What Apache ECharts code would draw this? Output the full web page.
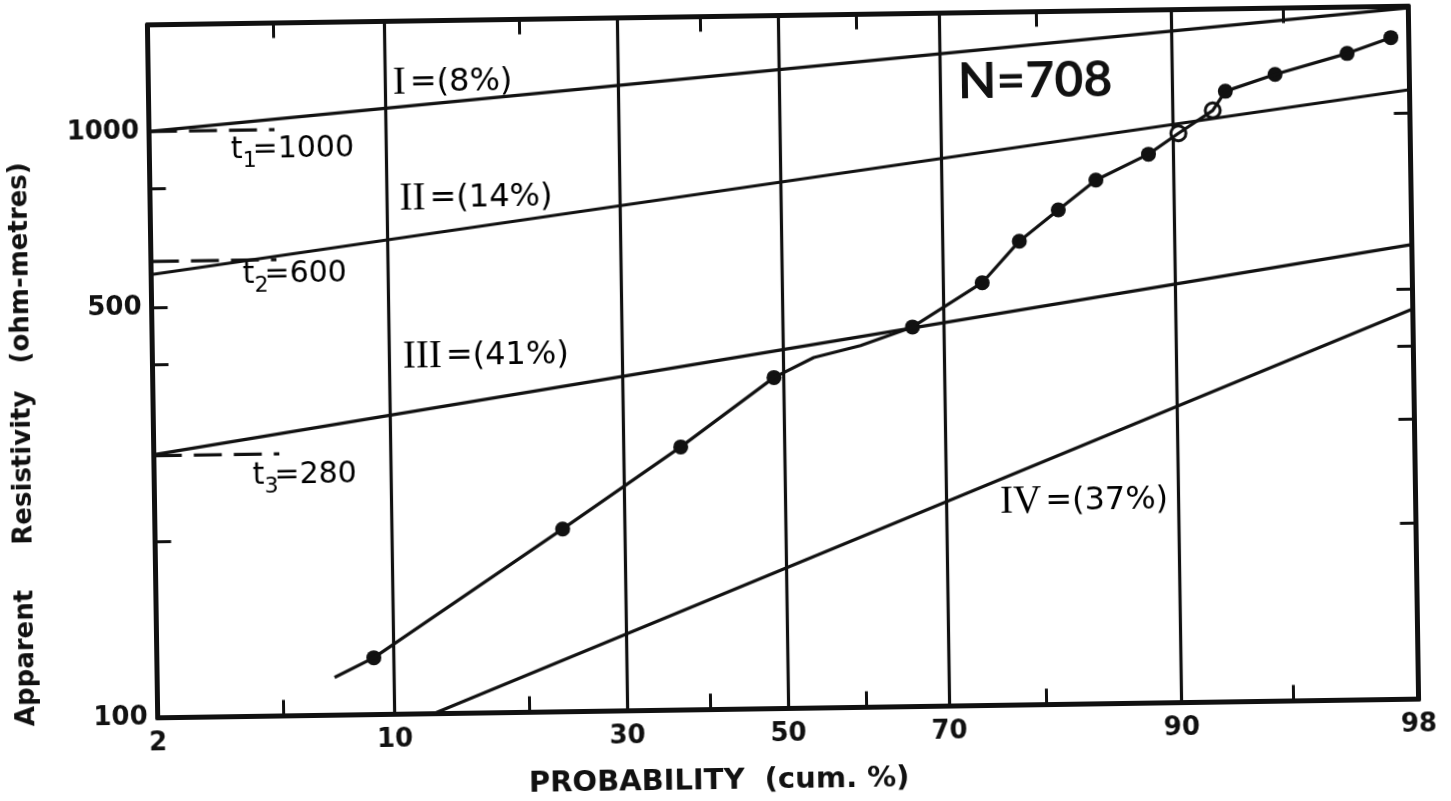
<!DOCTYPE html>
<html>
<head>
<meta charset="utf-8">
<title>Apparent resistivity probability plot</title>
<script src="https://cdn.jsdelivr.net/npm/echarts@6/dist/echarts.min.js"></script>
<style>
  html, body { margin: 0; padding: 0; background: #fff; overflow: hidden; }
  /* the scanned figure sits slightly tilted on the page */
  #chart { width: 1451px; height: 801px; background: #fff;
           transform: rotate(-0.85deg); transform-origin: 783px 362px; }
</style>
</head>
<body>
<div id="chart"></div>
<script>
// probability axis ticks (cum. %)
const xLabelPct = [2, 10, 30, 50, 70, 90, 98];
const xGridPct = [10, 30, 50, 70, 90];
const xMinorPct = [5, 20, 40, 60, 80, 95];
// resistivity axis ticks (ohm-m)
const yLabelVals = [100, 500, 1000];
const yTickLeft = [200, 400, 500, 800];
const yTickRight = [200, 300, 400, 500, 1000];

// plotted points
const dotPct = [8.9, 23.4, 36.8, 48.8, 66.4, 74.3, 78.1, 81.7, 84.8, 88.5, 90.3, 92.1, 92.7, 94.7, 96.8, 97.7];
const dotRho = [125, 205, 281, 367, 444, 526, 618, 697, 782, 863, 935, 1021, 1100, 1172, 1267, 1345];
// hand drawn curve through the points
const curvePct = [7.0, 8.9, 23.4, 36.8, 48.8, 54.0, 60.0, 66.4, 74.3, 78.1, 81.7, 84.8, 88.5, 90.3, 92.1, 92.7, 94.7, 96.8, 97.7];
const curveRho = [116, 125, 205, 281, 367, 396, 414, 444, 526, 618, 697, 782, 863, 935, 1021, 1100, 1172, 1267, 1345];

// fitted populations I..IV (straight lines)
const popNames = ['I', 'II', 'III', 'IV'];
const popShare = ['8%', '14%', '41%', '37%'];
const popStartPct = [2, 2, 2, 12.4];
const popStartRho = [1000, 570, 281, 100];
const popEndPct = [98, 98, 98, 98];
const popEndRho = [1510, 1095, 596, 463];

// thresholds t1..t3
const tLevels = [1000, 600, 280];
const tEndPct = 5;

// inverse normal cdf (Acklam) -> normal probability scale
function probit (p) {
  const a = [-3.969683028665376e+01, 2.209460984245205e+02, -2.759285104469687e+02, 1.383577518672690e+02, -3.066479806614716e+01, 2.506628277459239e+00]
  const b = [-5.447609879822406e+01, 1.615858368580409e+02, -1.556989798598866e+02, 6.680131188771972e+01, -1.328068155288572e+01]
  const c = [-7.784894002430293e-03, -3.223964580411365e-01, -2.400758277161838e+00, -2.549671348283726e+00, 4.374664141464968e+00, 2.938163982698783e+00]
  const d = [7.784695709041462e-03, 3.224671290700398e-01, 2.445134137142996e+00, 3.754408661907416e+00]
  const pl = 0.02425
  let q, r
  if (p < pl) {
    q = Math.sqrt(-2 * Math.log(p))
    return (((((c[0] * q + c[1]) * q + c[2]) * q + c[3]) * q + c[4]) * q + c[5]) / ((((d[0] * q + d[1]) * q + d[2]) * q + d[3]) * q + 1)
  }
  if (p > 1 - pl) {
    q = Math.sqrt(-2 * Math.log(1 - p))
    return -(((((c[0] * q + c[1]) * q + c[2]) * q + c[3]) * q + c[4]) * q + c[5]) / ((((d[0] * q + d[1]) * q + d[2]) * q + d[3]) * q + 1)
  }
  q = p - 0.5
  r = q * q
  return (((((a[0] * r + a[1]) * r + a[2]) * r + a[3]) * r + a[4]) * r + a[5]) * q / (((((b[0] * r + b[1]) * r + b[2]) * r + b[3]) * r + b[4]) * r + 1)
}
const toZ = p => probit(p / 100)
const zMin = toZ(2)
const zMax = toZ(98)

const F = '"DejaVu Sans", sans-serif'
const black = '#111'
// points drawn as open rings in the original
const hollowDots = [10, 11]

const xBase = { type: 'value', min: zMin, max: zMax, gridIndex: 0 }
const yBase = { type: 'log', logBase: 10, min: 100, max: 1520 }

let myChart = echarts.init(document.getElementById('chart'), null, { renderer: 'canvas' })

const lineSeries = popNames.map((n, i) => ({
  name: 'pop ' + n,
  type: 'line',
  silent: true,
  symbol: 'none',
  lineStyle: { color: black, width: 3.2 },
  data: [[toZ(popStartPct[i]), popStartRho[i]], [toZ(popEndPct[i]), popEndRho[i]]]
}))

const tSeries = tLevels.map((v, i) => ({
  name: 't' + (i + 1),
  type: 'line',
  silent: true,
  symbol: 'none',
  lineStyle: { color: black, width: 3.2, type: [28, 12] },
  data: [[toZ(2), v], [toZ(tEndPct), v]]
}))

const labelText = { fontFamily: F, fontSize: 32, color: black, verticalAlign: 'middle', lineHeight: 38 }
const romanText = { fontFamily: '"Liberation Serif", serif', fontSize: 39, color: black, verticalAlign: 'middle', lineHeight: 38, padding: [0, 4, 0, 0] }
const popLabelPos = [[397, 58], [402, 174], [403, 332], [998, 486]]
const tLabelPos = [[234, 127], [244, 252], [251, 453]]

const graphics = []
popNames.forEach((n, i) => {
  graphics.push({
    type: 'text',
    left: popLabelPos[i][0],
    top: popLabelPos[i][1],
    style: {
      text: '{r|' + n + '}{n|=(' + popShare[i] + ')}',
      rich: { r: romanText, n: labelText }
    }
  })
})
tLevels.forEach((v, i) => {
  graphics.push({
    type: 'text',
    left: tLabelPos[i][0],
    top: tLabelPos[i][1],
    style: {
      text: '{n|t}{s|' + (i + 1) + '}{n|=' + v + '}',
      rich: {
        n: { fontFamily: F, fontSize: 30, color: black, verticalAlign: 'top', lineHeight: 34 },
        s: { fontFamily: F, fontSize: 22, color: black, verticalAlign: 'top', lineHeight: 22, width: 10, padding: [15, 0, 0, 0] }
      }
    }
  })
})
graphics.push({
  type: 'text', left: 962, top: 60,
  style: { text: 'N=708', font: 'bold 50px Lato, sans-serif', fill: black }
})
graphics.push({
  type: 'text', x: 713, y: 780,
  style: { text: 'PROBABILITY  (cum. %)', font: 'bold 29px "DejaVu Sans", sans-serif', fill: black, align: 'center', verticalAlign: 'middle' }
})
graphics.push({
  type: 'text', x: 22, y: 433, rotation: Math.PI / 2,
  style: { text: 'Apparent     Resistivity   (ohm-metres)', font: 'bold 26px "DejaVu Sans", sans-serif', fill: black, align: 'center', verticalAlign: 'middle' }
})

const tickFont = { color: black, fontFamily: F, fontWeight: 'bold', fontSize: 26 }

myChart.setOption({
  animation: false,
  backgroundColor: '#fff',
  grid: { left: 152.5, right: 37.5, top: 15.5, bottom: 92.5 },
  xAxis: [
    Object.assign({}, xBase, {
      position: 'bottom',
      axisLine: { show: true, onZero: false, lineStyle: { color: black, width: 5 } },
      axisTick: { show: true, inside: true, length: 16, lineStyle: { color: black, width: 3 }, customValues: xMinorPct.map(toZ) },
      axisLabel: Object.assign({
        show: true,
        customValues: xLabelPct.map(toZ),
        margin: 13,
        formatter: function (v) {
          const i = xLabelPct.findIndex(p => Math.abs(toZ(p) - v) < 1e-6)
          return i >= 0 ? String(xLabelPct[i]) : ''
        }
      }, tickFont),
      splitLine: { show: false }
    }),
    Object.assign({}, xBase, {
      position: 'bottom',
      axisLine: { show: false },
      axisTick: { show: false, customValues: xGridPct.map(toZ) },
      axisLabel: { show: false },
      splitLine: { show: true, lineStyle: { color: black, width: 3.2 } }
    }),
    Object.assign({}, xBase, {
      position: 'top',
      axisLine: { show: true, onZero: false, lineStyle: { color: black, width: 5 } },
      axisTick: { show: true, inside: true, length: 15, lineStyle: { color: black, width: 3 }, customValues: xMinorPct.map(toZ) },
      axisLabel: { show: false },
      splitLine: { show: false }
    })
  ],
  yAxis: [
    Object.assign({}, yBase, {
      position: 'left',
      axisLine: { show: true, onZero: false, lineStyle: { color: black, width: 5 } },
      axisTick: { show: true, inside: true, length: 16, lineStyle: { color: black, width: 3 }, customValues: yTickLeft },
      axisLabel: Object.assign({
        show: true,
        customValues: yLabelVals,
        margin: 10,
        formatter: v => String(Math.round(v))
      }, tickFont),
      splitLine: { show: false },
      minorTick: { show: false }
    }),
    Object.assign({}, yBase, {
      position: 'right',
      axisLine: { show: true, onZero: false, lineStyle: { color: black, width: 5 } },
      axisTick: { show: true, inside: true, length: 16, lineStyle: { color: black, width: 3 }, customValues: yTickRight },
      axisLabel: { show: false },
      splitLine: { show: false }
    })
  ],
  graphic: graphics,
  series: lineSeries.concat(tSeries, [
    {
      name: 'curve',
      type: 'line',
      silent: true,
      symbol: 'none',
      lineStyle: { color: black, width: 3.2 },
      data: curvePct.map((p, i) => [toZ(p), curveRho[i]])
    },
    {
      name: 'samples',
      type: 'scatter',
      silent: true,
      symbol: 'circle',
      symbolSize: 15,
      itemStyle: { color: black, opacity: 1 },
      data: dotPct.map((p, i) => {
        const item = { value: [toZ(p), dotRho[i]] }
        if (hollowDots.indexOf(i) >= 0) {
          item.itemStyle = { color: '#fff', borderColor: black, borderWidth: 3 }
        }
        return item
      })
    }
  ])
})
</script>
</body>
</html>
